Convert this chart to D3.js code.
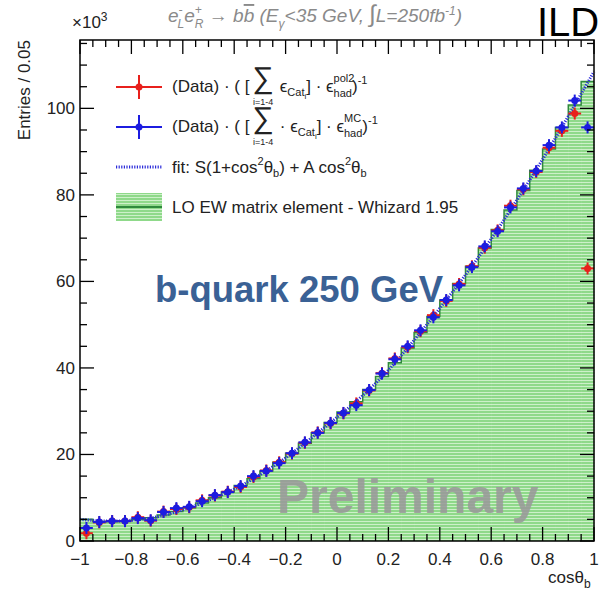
<!DOCTYPE html>
<html>
<head>
<meta charset="utf-8">
<script src="https://cdn.jsdelivr.net/npm/d3@7"></script>
<style>
  body { margin: 0; background: #fff; }
  text { font-family: "Liberation Sans", Arial, sans-serif; }
</style>
</head>
<body>
<div class="chart"></div>
<script>
// bin centres of cos(theta_b), bin width 0.05
const binCenters = [-0.975, -0.925, -0.875, -0.825, -0.775, -0.725, -0.675, -0.625, -0.575, -0.525,
                    -0.475, -0.425, -0.375, -0.325, -0.275, -0.225, -0.175, -0.125, -0.075, -0.025,
                     0.025,  0.075,  0.125,  0.175,  0.225,  0.275,  0.325,  0.375,  0.425,  0.475,
                     0.525,  0.575,  0.625,  0.675,  0.725,  0.775,  0.825,  0.875,  0.925,  0.975];
// LO EW matrix element (x10^3)
const whizard = [5.0, 4.5, 4.5, 4.7, 5.0, 5.4, 6.0, 6.8, 7.7, 8.8,
                 10.0, 11.3, 12.8, 14.4, 16.2, 18.2, 20.3, 22.6, 25.0, 27.4,
                 29.8, 32.2, 35.0, 38.0, 41.2, 44.6, 48.2, 51.9, 55.7, 59.5,
                 63.5, 67.7, 72.0, 76.5, 81.0, 85.7, 90.6, 95.6, 100.8, 106.2];
// corrected with pol2 efficiency (red)
const dataPol2 = [1.8, 4.3, 4.6, 4.6, 5.5, 4.7, 6.8, 7.4, 7.8, 9.4,
                  10.5, 11.4, 12.5, 14.8, 16.3, 18.2, 20.2, 22.7, 25.1, 27.2,
                  29.5, 31.8, 34.8, 38.8, 42.2, 44.8, 48.5, 52.2, 55.5, 59.4,
                  63.5, 67.8, 71.8, 77.5, 81.3, 85.3, 90.9, 94.8, 98.8, 63.0];
// corrected with MC efficiency (blue)
const dataMC = [3.0, 4.4, 4.6, 4.6, 5.3, 4.8, 6.7, 7.6, 7.9, 9.2,
                10.6, 11.3, 12.7, 15.0, 16.2, 18.0, 20.3, 22.8, 25.0, 27.3,
                29.6, 31.4, 34.9, 38.7, 42.0, 45.0, 48.7, 51.7, 55.7, 59.1,
                63.3, 68.1, 71.6, 77.1, 81.5, 85.5, 91.5, 95.6, 101.8, 95.6];
// fit curve read at a few points
const fitX = [-1, -0.9, -0.8, -0.7, -0.6, -0.5, -0.4, -0.3, -0.2, -0.1, 0,
              0.1, 0.2, 0.3, 0.4, 0.5, 0.6, 0.7, 0.8, 0.9, 1.0];
const fitY = [5.0, 4.6, 4.8, 5.6, 7.2, 9.4, 12.0, 15.3, 19.2, 23.8, 28.6,
              33.6, 39.5, 46.4, 53.8, 61.5, 69.8, 78.8, 88.2, 98.2, 108.5];
const xTicks = [-1, -0.8, -0.6, -0.4, -0.2, 0, 0.2, 0.4, 0.6, 0.8, 1];
const yTicks = [0, 20, 40, 60, 80, 100];

const W = 602, H = 593;
const margin = {top: 40, right: 8, bottom: 52, left: 80};
const binW = 0.05;

const svg = d3.select(".chart").append("svg")
    .attr("width", W).attr("height", H);

const x = d3.scaleLinear().domain([-1, 1]).range([margin.left, W - margin.right]);
const y = d3.scaleLinear().domain([0, 115.8]).range([H - margin.bottom, margin.top]);

// hatched green fill
const defs = svg.append("defs");
const pat = defs.append("pattern")
    .attr("id", "hatch").attr("patternUnits", "userSpaceOnUse")
    .attr("width", 6).attr("height", 3);
pat.append("rect").attr("width", 6).attr("height", 3).attr("fill", "#8fd98a");
pat.append("rect").attr("y", 2).attr("width", 6).attr("height", 1).attr("fill", "#cdf0c9");

const hist = binCenters.map((c, i) => ({c, v: whizard[i]}));

svg.append("g").selectAll("rect")
    .data(hist)
    .join("rect")
    .attr("x", d => x(d.c - binW / 2))
    .attr("y", d => y(d.v))
    .attr("width", d => x(d.c + binW / 2) - x(d.c - binW / 2) + 0.5)
    .attr("height", d => y(0) - y(d.v))
    .attr("fill", "url(#hatch)");

// outline of histogram
const stepPts = [];
hist.forEach(d => { stepPts.push([d.c - binW / 2, d.v]); stepPts.push([d.c + binW / 2, d.v]); });
svg.append("path")
    .datum(stepPts)
    .attr("fill", "none")
    .attr("stroke", "#2f8a3c")
    .attr("stroke-width", 1.5)
    .attr("d", d3.line().x(d => x(d[0])).y(d => y(d[1])));

// fit
svg.append("path")
    .datum(fitX.map((v, i) => [v, fitY[i]]))
    .attr("fill", "none")
    .attr("stroke", "#2b2bd9")
    .attr("stroke-width", 3)
    .attr("stroke-dasharray", "1.2,1.4")
    .attr("d", d3.line().curve(d3.curveCatmullRom).x(d => x(d[0])).y(d => y(d[1])));

function drawPoints(vals, color) {
    const g = svg.append("g");
    const pts = binCenters.map((c, i) => ({c, v: vals[i]}));
    g.selectAll(".h").data(pts).join("line")
        .attr("x1", d => x(d.c - binW / 2)).attr("x2", d => x(d.c + binW / 2))
        .attr("y1", d => y(d.v)).attr("y2", d => y(d.v))
        .attr("stroke", color).attr("stroke-width", 2);
    g.selectAll(".v").data(pts).join("line")
        .attr("x1", d => x(d.c)).attr("x2", d => x(d.c))
        .attr("y1", d => y(d.v) - 6).attr("y2", d => y(d.v) + 6)
        .attr("stroke", color).attr("stroke-width", 2);
    g.selectAll("circle").data(pts).join("circle")
        .attr("cx", d => x(d.c)).attr("cy", d => y(d.v)).attr("r", 3.5)
        .attr("fill", color);
}
drawPoints(dataPol2, "#e8201c");
drawPoints(dataMC, "#1c1ce0");

// frame and ticks (ROOT style, ticks on all four sides)
const x0 = x(-1), x1 = x(1), y0 = y(0), y1 = margin.top;
svg.append("rect")
    .attr("x", x0).attr("y", y1).attr("width", x1 - x0).attr("height", y0 - y1)
    .attr("fill", "none").attr("stroke", "#000").attr("stroke-width", 1.5);

const xMinor = d3.range(-1, 1.0001, 0.05);
const yMinor = d3.range(0, 116, 5);
const tickG = svg.append("g").attr("stroke", "#000").attr("stroke-width", 1.3);
xMinor.forEach(v => {
    const major = Math.abs(Math.round(v * 5) - v * 5) < 1e-6;
    const len = major ? 14 : 7;
    tickG.append("line").attr("x1", x(v)).attr("x2", x(v)).attr("y1", y0).attr("y2", y0 - len);
    tickG.append("line").attr("x1", x(v)).attr("x2", x(v)).attr("y1", y1).attr("y2", y1 + len);
});
yMinor.forEach(v => {
    const major = v % 20 === 0;
    const len = major ? 14 : 7;
    tickG.append("line").attr("x1", x0).attr("x2", x0 + len).attr("y1", y(v)).attr("y2", y(v));
    tickG.append("line").attr("x1", x1).attr("x2", x1 - len).attr("y1", y(v)).attr("y2", y(v));
});

svg.append("g").selectAll("text").data(xTicks).join("text")
    .attr("x", d => x(d)).attr("y", y0 + 24)
    .attr("text-anchor", "middle").attr("font-size", 17).attr("fill", "#222")
    .text(d => d3.format("")(d).replace("-", "\u2212"));

svg.append("g").selectAll("text").data(yTicks).join("text")
    .attr("x", x0 - 5).attr("y", d => y(d) + 6)
    .attr("text-anchor", "end").attr("font-size", 17).attr("fill", "#222")
    .text(d => d);

// axis titles
svg.append("text")
    .attr("transform", `translate(30, ${y1}) rotate(-90)`)
    .attr("text-anchor", "end").attr("font-size", 17).attr("fill", "#222")
    .text("Entries / 0.05");

const xl = svg.append("text").attr("x", 548).attr("y", 583).attr("font-size", 17).attr("fill", "#222");
xl.append("tspan").text("cos\u03b8");
xl.append("tspan").attr("font-size", 12).attr("dy", 5).text("b");

const e3 = svg.append("text").attr("x", 72).attr("y", 28).attr("font-size", 17).attr("fill", "#222");
e3.append("tspan").text("\u00d710");
e3.append("tspan").attr("font-size", 12).attr("dy", -7).text("3");

// header
const hd = svg.append("text").attr("x", 168).attr("y", 22)
    .attr("font-size", 19).attr("font-style", "italic").attr("fill", "#8a8a8a");
hd.append("tspan").text("e");
hd.append("tspan").attr("font-size", 12).attr("dy", -8).text("-");
hd.append("tspan").attr("font-size", 12).attr("dx", -5).attr("dy", 14).text("L");
hd.append("tspan").attr("dy", -6).text("e");
hd.append("tspan").attr("font-size", 12).attr("dy", -8).text("+");
hd.append("tspan").attr("font-size", 12).attr("dx", -7).attr("dy", 14).text("R");
hd.append("tspan").attr("dy", -6).attr("font-style", "normal").text(" \u2192 ");
hd.append("tspan").text("b");
hd.append("tspan").attr("text-decoration", "overline").text("b");
hd.append("tspan").text(" (E");
hd.append("tspan").attr("font-size", 12).attr("dy", 6).text("\u03b3");
hd.append("tspan").attr("dy", -6).text("<35 GeV, ");
hd.append("tspan").attr("font-style", "normal").attr("font-size", 24).text("\u222b");
hd.append("tspan").text("L=250fb");
hd.append("tspan").attr("font-size", 12).attr("dy", -7).text("-1");
hd.append("tspan").attr("dy", 7).text(")");

svg.append("text").attr("x", 537).attr("y", 36)
    .attr("font-size", 40).attr("fill", "#000").text("ILD");

// legend
const lgX = 116, lgW = 46, txtX = 172;
function legendMarker(yy, color) {
    svg.append("line").attr("x1", lgX).attr("x2", lgX + lgW).attr("y1", yy).attr("y2", yy)
        .attr("stroke", color).attr("stroke-width", 2);
    svg.append("line").attr("x1", lgX + lgW / 2).attr("x2", lgX + lgW / 2).attr("y1", yy - 12).attr("y2", yy + 12)
        .attr("stroke", color).attr("stroke-width", 2);
    svg.append("circle").attr("cx", lgX + lgW / 2).attr("cy", yy).attr("r", 3.5).attr("fill", color);
}
legendMarker(87, "#e8201c");
legendMarker(127, "#1c1ce0");

// formula pieces: advance x by measured width; "stack" pieces don't advance
function formula(x0f, base, pieces) {
    let cx = x0f;
    pieces.forEach(p => {
        const t = svg.append("text").attr("x", cx).attr("y", base + (p.dy || 0))
            .attr("font-size", p.size || 17).attr("fill", "#222").text(p.t);
        const w = t.node().getComputedTextLength();
        if (!p.stack) cx += w + (p.gap || 0);
    });
    return cx;
}
function dataRow(base, sup, dotBefore) {
    let cx = txtX;
    const a = svg.append("text").attr("x", cx).attr("y", base).attr("font-size", 17).attr("fill", "#222")
        .text("(Data) \u00b7 ( [");
    cx += a.node().getComputedTextLength() + 3;
    const s = svg.append("text").attr("x", cx).attr("y", base - 4).attr("font-size", 30).attr("fill", "#222")
        .text("\u2211");
    const sw = s.node().getComputedTextLength();
    svg.append("text").attr("x", cx + sw / 2).attr("y", base + 13).attr("text-anchor", "middle")
        .attr("font-size", 9).attr("fill", "#222").text("i=1-4");
    cx += sw + 6;
    formula(cx, base, [
        {t: dotBefore ? "\u00b7 \u03f5" : "\u03f5", size: 17, gap: 0},
        {t: "Cat", size: 11, dy: 4},
        {t: "i", size: 8, dy: 7, gap: 0},
        {t: "] \u00b7 \u03f5", size: 17, gap: 0},
        {t: sup, size: 11, dy: -10, stack: true},
        {t: "had", size: 11, dy: 5},
        {t: ")", size: 17},
        {t: "-1", size: 11, dy: -8}
    ]);
}
dataRow(92, "pol2", false);
dataRow(132, "MC", true);

svg.append("line").attr("x1", lgX).attr("x2", lgX + lgW).attr("y1", 167).attr("y2", 167)
    .attr("stroke", "#2b2bd9").attr("stroke-width", 3).attr("stroke-dasharray", "1.2,1.4");
formula(txtX, 173, [
    {t: "fit: S(1+cos", size: 17},
    {t: "2", size: 11, dy: -8},
    {t: "\u03b8", size: 17},
    {t: "b", size: 11, dy: 4},
    {t: ") + A cos", size: 17},
    {t: "2", size: 11, dy: -8},
    {t: "\u03b8", size: 17},
    {t: "b", size: 11, dy: 4}
]);

svg.append("rect").attr("x", lgX).attr("y", 193).attr("width", lgW).attr("height", 28)
    .attr("fill", "url(#hatch)");
svg.append("line").attr("x1", lgX).attr("x2", lgX + lgW).attr("y1", 207).attr("y2", 207)
    .attr("stroke", "#2f8a3c").attr("stroke-width", 2);
svg.append("text").attr("x", txtX).attr("y", 213).attr("font-size", 17).attr("fill", "#222")
    .text("LO EW matrix element - Whizard 1.95");

// annotations
svg.append("text").attr("x", 155).attr("y", 302)
    .attr("font-size", 36.5).attr("font-weight", "bold").attr("fill", "#3a6195")
    .text("b-quark 250 GeV");

svg.append("text").attr("x", 277).attr("y", 513)
    .attr("font-size", 48).attr("font-weight", "bold").attr("fill", "#9a9a9a").attr("fill-opacity", 0.9)
    .text("Preliminary");
</script>
</body>
</html>
